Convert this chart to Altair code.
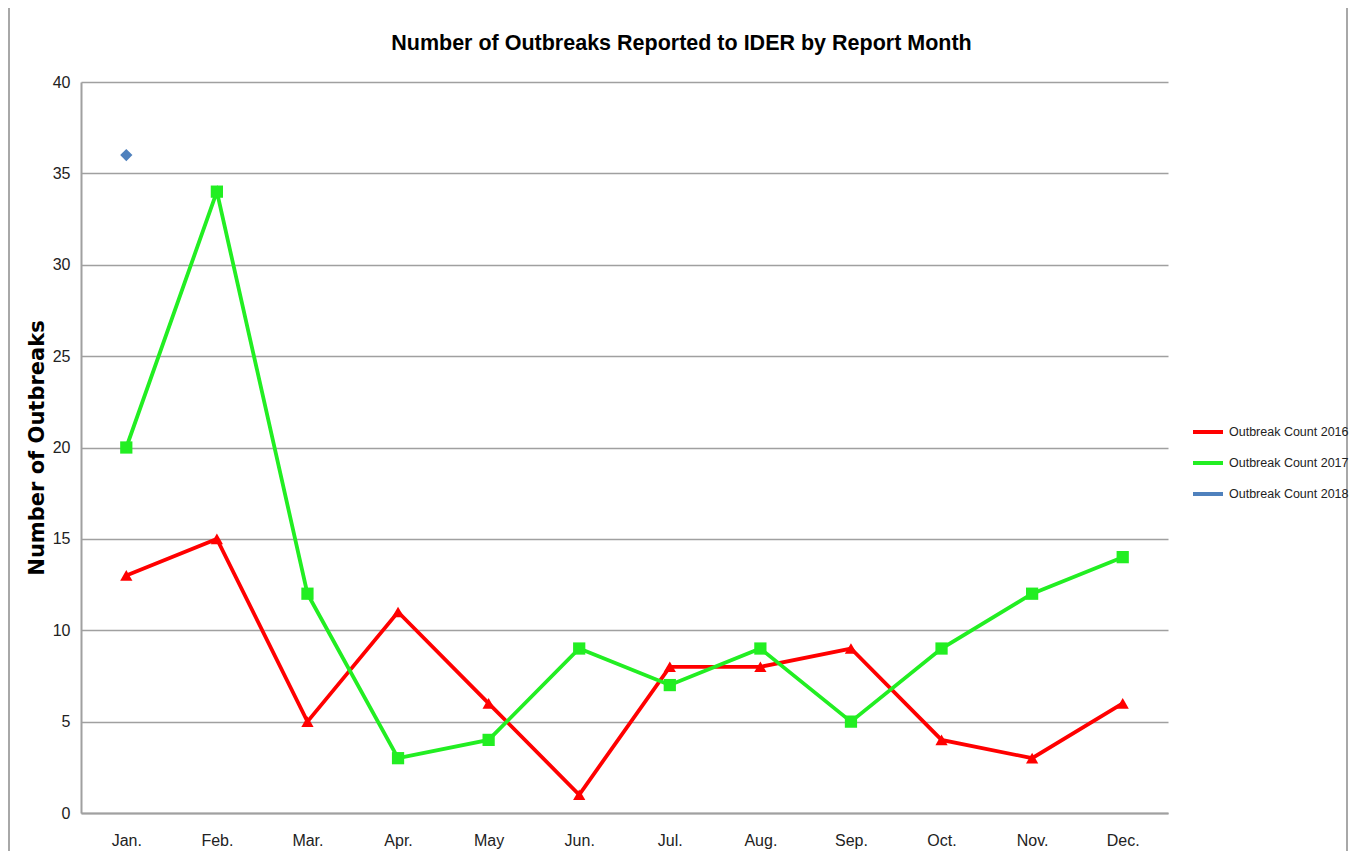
import altair as alt
import pandas as pd

months = ["Jan.", "Feb.", "Mar.", "Apr.", "May", "Jun.", "Jul.", "Aug.", "Sep.", "Oct.", "Nov.", "Dec."]
count_2016 = [13, 15, 5, 11, 6, 1, 8, 8, 9, 4, 3, 6]
count_2017 = [20, 34, 12, 3, 4, 9, 7, 9, 5, 9, 12, 14]
count_2018 = [36]

series_names = ["Outbreak Count 2016", "Outbreak Count 2017", "Outbreak Count 2018"]
series_colors = ["#ff0000", "#22ee22", "#4f81bd"]
series_shapes = ["triangle-up", "square", "diamond"]

rows = []
for name, vals in zip(series_names, [count_2016, count_2017, count_2018]):
    for m, v in zip(months, vals):
        rows.append({"month": m, "value": v, "series": name})
df = pd.DataFrame(rows)

FONT = "Liberation Sans, Arial, sans-serif"

x = alt.X("month:O", sort=months, title=None,
          scale=alt.Scale(type="point", padding=0.5),
          axis=alt.Axis(labelAngle=0, ticks=False, labelPadding=19, domain=True,
                        domainColor="#a0a0a0", domainWidth=2, grid=False,
                        labelFont=FONT, labelFontSize=16, labelColor="#222"))
y = alt.Y("value:Q", title="Number of Outbreaks",
          scale=alt.Scale(domain=[0, 40], nice=False),
          axis=alt.Axis(values=list(range(0, 41, 5)), ticks=False, labelPadding=11,
                        domainColor="#a0a0a0", domainWidth=2,
                        gridColor="#a0a0a0", gridWidth=1.5,
                        labelFont=FONT, labelFontSize=16, labelColor="#222",
                        titleFont="DejaVu Sans, Verdana, sans-serif", titleFontSize=21,
                        titleFontWeight="bold", titleColor="#000", titlePadding=5))

color_scale = alt.Scale(domain=series_names, range=series_colors)

lines = alt.Chart(df).mark_line(strokeWidth=3.8).encode(
    x=x, y=y,
    color=alt.Color("series:N", scale=color_scale,
                    legend=alt.Legend(title=None, orient="none", legendX=1110, legendY=333,
                                      symbolType="stroke", symbolStrokeWidth=4, symbolSize=900,
                                      labelFont=FONT, labelFontSize=12.5, labelColor="#222",
                                      rowPadding=6, labelOffset=4)),
    detail="series:N",
)

point_layers = []
for name, shape in zip(series_names, series_shapes):
    point_layers.append(
        alt.Chart(df).transform_filter(alt.datum.series == name)
        .mark_point(filled=True, size=150, opacity=1, shape=shape)
        .encode(x=x, y=y, color=alt.Color("series:N", scale=color_scale, legend=None))
    )

frame_df = pd.DataFrame({"k": [0]})
frame_left = alt.Chart(frame_df).mark_rule(color="#a8a8a8", strokeWidth=2, clip=False).encode(
    x=alt.value(-72), y=alt.value(-74), y2=alt.value(769))
frame_right = alt.Chart(frame_df).mark_rule(color="#a8a8a8", strokeWidth=2, clip=False).encode(
    x=alt.value(1266), y=alt.value(-74), y2=alt.value(769))

chart = alt.layer(frame_left, frame_right, lines, *point_layers).properties(
    width=1087, height=731,
    padding={"left": 73, "top": 74, "right": 181, "bottom": 38},
    autosize=alt.AutoSizeParams(type="none"),
    title=alt.TitleParams("Number of Outbreaks Reported to IDER by Report Month",
                          font=FONT, fontSize=21.5, fontWeight="bold", color="#000",
                          anchor="middle", frame="group", dx=57, offset=-47),
).configure(background="white").configure_view(stroke=None)

chart.save("out.html", embed_options={"renderer": "svg", "actions": False})
